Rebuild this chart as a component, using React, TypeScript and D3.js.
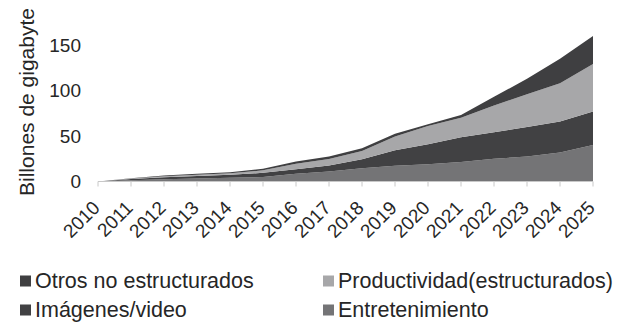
import React from "react";
import * as d3 from "d3";

const years = ["2010","2011","2012","2013","2014","2015","2016","2017","2018","2019","2020","2021","2022","2023","2024","2025"];
const entretenimiento = [0, 1.5, 2.5, 3.3, 4.0, 5.0, 8.5, 11, 14.5, 17.4, 19, 21.5, 25, 27.5, 32, 40];
const imagenes = [0, 1.2, 2.2, 2.8, 3.4, 4.5, 5.0, 6.6, 10, 17, 22, 27, 29, 32.5, 34, 37];
const productividad = [0, 0.5, 1.0, 1.3, 1.6, 2.8, 6.0, 7.0, 9, 15, 20, 21.5, 29.5, 36, 42, 52];
const otros = [0, 0.5, 0.9, 1.0, 1.2, 1.7, 2.5, 3.0, 3, 3, 2, 3, 9.5, 17, 27, 31];
const yTicks = [0, 50, 100, 150];

const seriesColors = ["#747476", "#414143", "#a7a7a9", "#3f3f41"];

const legendItems = [
  { name: "Otros no estructurados", color: "#3f3f41" },
  { name: "Productividad(estructurados)", color: "#a7a7a9" },
  { name: "Imágenes/video", color: "#414143" },
  { name: "Entretenimiento", color: "#747476" },
];

const FONT = "'Liberation Sans', Arial, sans-serif";

export default function App() {
  const W = 620, H = 325;
  const x = d3.scalePoint<string>().domain(years).range([98, 593]);
  const y = d3.scaleLinear().domain([0, 150]).range([181.5, 45]);

  const rows = years.map((yr, i) => ({
    year: yr,
    s0: entretenimiento[i],
    s1: imagenes[i],
    s2: productividad[i],
    s3: otros[i],
  }));
  const keys = ["s0", "s1", "s2", "s3"];
  const stacked = d3.stack<any>().keys(keys)(rows);
  const area = d3
    .area<any>()
    .x((d) => x(d.data.year) as number)
    .y0((d) => y(d[0]))
    .y1((d) => y(d[1]));

  return (
    <svg width={W} height={H} style={{ position: "absolute", left: 0, top: 0, background: "#fff" }} fontFamily={FONT}>
      <rect width={W} height={H} fill="#fff" />
      {stacked.map((s, i) => (
        <path key={i} d={area(s) || ""} fill={seriesColors[i]} />
      ))}
      <line x1={98} x2={593} y1={y(0)} y2={y(0)} stroke="#c8c8c8" strokeWidth={1} />
      {years.map((yr) => (
        <g key={yr}>
          <line x1={x(yr)} x2={x(yr)} y1={y(0)} y2={y(0) + 5} stroke="#c8c8c8" strokeWidth={1} />
          <text
            transform={`translate(${(x(yr) as number) + 3},${209}) rotate(-45)`}
            textAnchor="end"
            fontSize={19}
            fill="#262626"
          >
            {yr}
          </text>
        </g>
      ))}
      {yTicks.map((t) => (
        <text key={t} x={81} y={y(t)} dy="0.35em" textAnchor="end" fontSize={19} fill="#262626">
          {t}
        </text>
      ))}
      <text transform="translate(34,102) rotate(-90)" textAnchor="middle" fontSize={21} fill="#262626">
        Billones de gigabyte
      </text>
      {legendItems.map((it, i) => {
        const col = i % 2;
        const row = Math.floor(i / 2);
        const lx = col === 0 ? 20 : 323;
        const by = row === 0 ? 288 : 317;
        return (
          <g key={it.name}>
            <rect x={lx} y={by - 12.5} width={11} height={11} fill={it.color} />
            <text x={lx + 15} y={by} fontSize={21.5} fill="#262626">
              {it.name}
            </text>
          </g>
        );
      })}
    </svg>
  );
}
